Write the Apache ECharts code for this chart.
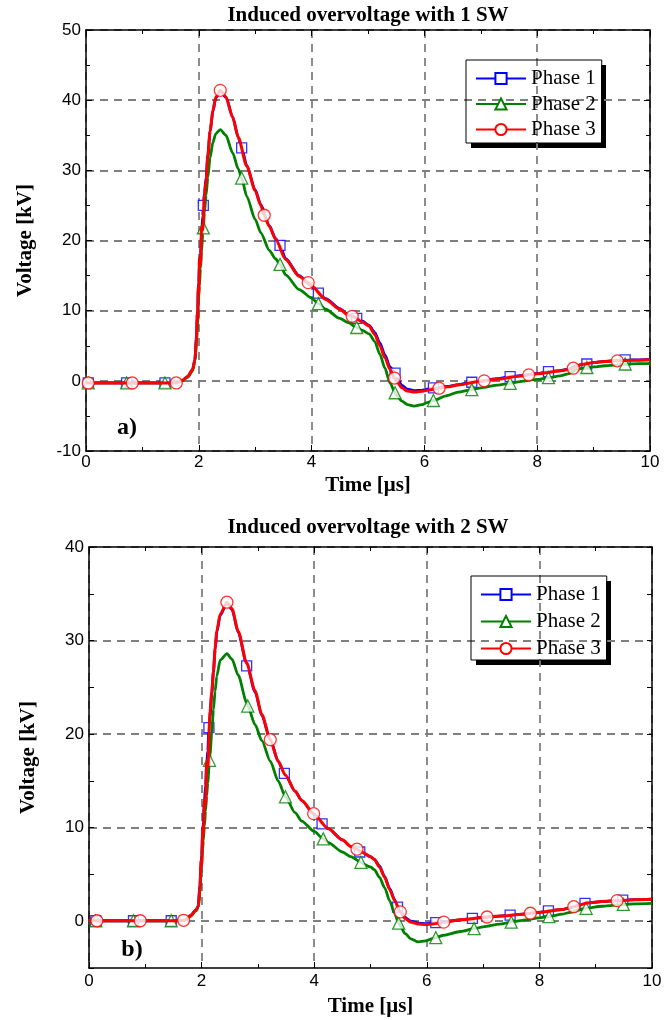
<!DOCTYPE html>
<html>
<head>
<meta charset="utf-8">
<title>Induced overvoltage</title>
<script src="https://cdn.jsdelivr.net/npm/echarts@6/dist/echarts.min.js"></script>
<style>
  html, body { margin: 0; padding: 0; background: #fff; }
  #chart { width: 671px; height: 1020px; }
</style>
</head>
<body>
<div id="chart"></div>
<script>
// chart a) - time grid [us] and voltages [kV]
var timeA = [0, 0.5, 1.0, 1.5, 1.7, 1.8, 1.89, 1.93, 1.96, 1.97,
  1.98, 1.99, 2.0, 2.01, 2.03, 2.05, 2.07, 2.1, 2.13, 2.16,
  2.2, 2.25, 2.3, 2.38, 2.48, 2.6, 2.7, 2.85, 3.0, 3.1,
  3.25, 3.36, 3.54, 3.78, 4.0, 4.25, 4.5, 4.65, 4.9, 5.02,
  5.12, 5.21, 5.3, 5.39, 5.5, 5.6, 5.7, 5.82, 5.95, 6.05,
  6.4, 6.6, 7.0, 7.3, 7.7, 8.0, 8.4, 8.55, 8.7, 8.8,
  9.0, 9.2, 9.5, 9.8, 10];
var phase1A = [-0.3, -0.3, -0.3, -0.3, 0.0, 0.6, 1.6, 3.0, 6.5, 9.0,
  10.0, 13.0, 14.0, 16.5, 18.0, 21.0, 23.5, 26.8, 29.0, 32.2,
  35.5, 38.4, 40.3, 41.3, 40.4, 37.6, 34.7, 30.7, 27.2, 25.1,
  22.1, 20.3, 17.4, 15.0, 13.5, 11.7, 10.3, 9.4, 8.5, 7.9,
  6.9, 5.4, 3.7, 2.0, 0.6, -0.6, -1.2, -1.4, -1.35, -1.2,
  -0.8, -0.55, 0.0, 0.3, 0.75, 1.05, 1.45, 1.65, 2.15, 2.35,
  2.6, 2.78, 2.95, 3.0, 3.05];
var phase2A = [-0.3, -0.3, -0.3, -0.3, 0.0, 0.5, 1.4, 2.8, 5.5, 7.0,
  8.0, 10.5, 12.0, 13.5, 16.0, 18.5, 21.0, 24.0, 26.5, 29.0,
  31.8, 34.0, 35.2, 35.8, 35.0, 32.5, 30.2, 26.3, 23.0, 21.1,
  18.6, 17.4, 15.1, 13.0, 11.8, 10.2, 8.9, 8.3, 7.2, 6.7,
  5.6, 3.8, 1.8, -0.3, -2.0, -2.9, -3.4, -3.6, -3.4, -3.1,
  -2.1, -1.6, -1.0, -0.6, -0.1, 0.2, 0.7, 1.0, 1.6, 1.8,
  2.0, 2.15, 2.35, 2.45, 2.5];
var phase3A = [-0.3, -0.3, -0.3, -0.3, 0.0, 0.6, 1.6, 3.0, 6.0, 9.5,
  8.5, 13.5, 12.5, 17.5, 16.5, 22.0, 21.5, 26.5, 28.5, 32.0,
  35.6, 38.5, 40.4, 41.4, 40.5, 37.6, 34.7, 30.6, 27.1, 25.0,
  22.0, 20.2, 17.3, 14.9, 13.5, 11.6, 10.2, 9.4, 8.4, 7.8,
  6.6, 5.0, 3.3, 1.6, 0.0, -1.0, -1.45, -1.6, -1.5, -1.35,
  -0.85, -0.6, -0.05, 0.25, 0.7, 1.0, 1.4, 1.6, 2.1, 2.35,
  2.6, 2.75, 2.9, 2.95, 3.0];
// marker points [t, kV]
var marks1A = [[0.04, -0.3], [0.72, -0.3], [1.4, -0.3], [2.08, 25.0], [2.76, 33.2], [3.44, 19.3], [4.12, 12.5],
  [4.8, 8.9], [5.48, 1.1], [6.16, -1.0], [6.84, -0.2], [7.52, 0.6], [8.2, 1.3], [8.88, 2.4], [9.56, 3.0]];
var marks2A = [[0.04, -0.3], [0.72, -0.3], [1.4, -0.3], [2.08, 21.8], [2.76, 28.9], [3.44, 16.6], [4.12, 11.0],
  [4.8, 7.6], [5.48, -1.7], [6.16, -2.8], [6.84, -1.25], [7.52, -0.35], [8.2, 0.45], [8.88, 1.9], [9.56, 2.4]];
var marks3A = [[0.04, -0.3], [0.82, -0.3], [1.6, -0.3], [2.38, 41.4], [3.16, 23.6], [3.94, 14.0], [4.72, 9.2],
  [5.47, 0.4], [6.26, -1.05], [7.06, 0.0], [7.85, 0.85], [8.64, 1.8], [9.42, 2.85]];

// chart b)
var timeB = [0, 0.5, 1.0, 1.5, 1.7, 1.8, 1.9, 1.94, 1.97, 1.99,
  2.0, 2.02, 2.03, 2.05, 2.07, 2.09, 2.11, 2.15, 2.18, 2.21,
  2.24, 2.27, 2.33, 2.45, 2.54, 2.65, 2.8, 2.95, 3.07, 3.22,
  3.36, 3.49, 3.66, 3.78, 4.0, 4.25, 4.5, 4.65, 4.84, 5.0,
  5.07, 5.16, 5.25, 5.34, 5.43, 5.53, 5.61, 5.72, 5.85, 5.98,
  6.1, 6.3, 6.6, 7.0, 7.3, 7.7, 8.0, 8.4, 8.55, 8.7,
  8.85, 9.1, 9.4, 9.7, 10];
var phase1B = [0.05, 0.05, 0.05, 0.05, 0.1, 0.6, 1.2, 1.6, 3.8, 6.0,
  7.0, 9.5, 10.5, 12.8, 14.5, 16.8, 18.2, 21.9, 24.3, 26.6,
  29.0, 30.9, 32.7, 34.0, 33.3, 30.9, 27.5, 24.5, 22.0, 19.4,
  17.1, 15.6, 13.9, 12.9, 11.4, 9.9, 8.7, 8.0, 7.4, 6.9,
  6.6, 5.9, 4.8, 3.5, 2.3, 1.1, 0.4, 0.0, -0.2, -0.25,
  -0.2, -0.05, 0.15, 0.4, 0.55, 0.75, 0.95, 1.25, 1.45, 1.7,
  1.95, 2.1, 2.2, 2.3, 2.35];
var phase2B = [0.05, 0.05, 0.05, 0.05, 0.1, 0.5, 1.1, 1.5, 3.0, 5.0,
  6.0, 7.8, 8.6, 10.2, 11.8, 13.4, 14.8, 17.8, 20.2, 22.6,
  24.6, 26.2, 27.9, 28.6, 28.0, 26.3, 23.4, 21.0, 19.3, 17.1,
  15.0, 13.3, 11.6, 10.7, 9.6, 8.4, 7.4, 6.9, 6.3, 5.8,
  5.5, 4.7, 3.6, 2.2, 0.8, -0.5, -1.3, -1.9, -2.2, -2.1,
  -1.85, -1.5, -1.1, -0.6, -0.3, 0.1, 0.35, 0.75, 0.95, 1.2,
  1.4, 1.6, 1.75, 1.85, 1.9];
var phase3B = [0.05, 0.05, 0.05, 0.05, 0.1, 0.6, 1.2, 1.6, 3.5, 6.5,
  5.8, 10.0, 9.2, 13.0, 12.5, 17.0, 16.5, 22.4, 24.5, 26.7,
  29.2, 31.0, 32.8, 34.1, 33.4, 31.0, 27.6, 24.6, 22.1, 19.4,
  17.1, 15.6, 13.9, 12.9, 11.4, 9.9, 8.7, 8.0, 7.4, 6.9,
  6.6, 5.8, 4.7, 3.4, 2.2, 1.0, 0.3, -0.1, -0.3, -0.35,
  -0.3, -0.1, 0.15, 0.4, 0.55, 0.75, 0.95, 1.25, 1.45, 1.7,
  1.95, 2.1, 2.2, 2.3, 2.35];
var marks1B = [[0.12, 0.05], [0.79, 0.05], [1.46, 0.05], [2.13, 20.7], [2.8, 27.3], [3.47, 15.8], [4.14, 10.4],
  [4.81, 7.4], [5.48, 1.5], [6.16, -0.15], [6.81, 0.3], [7.48, 0.65], [8.16, 1.1], [8.81, 1.9], [9.48, 2.25]];
var marks2B = [[0.12, 0.05], [0.79, 0.05], [1.46, 0.05], [2.14, 17.2], [2.82, 23.0], [3.49, 13.3], [4.16, 8.8],
  [4.83, 6.3], [5.5, -0.2], [6.16, -1.75], [6.84, -0.8], [7.5, -0.1], [8.17, 0.5], [8.83, 1.38], [9.49, 1.8]];
var marks3B = [[0.14, 0.05], [0.91, 0.05], [1.68, 0.1], [2.45, 34.1], [3.22, 19.4], [3.99, 11.5], [4.76, 7.7],
  [5.53, 1.0], [6.3, -0.1], [7.07, 0.45], [7.84, 0.85], [8.61, 1.55], [9.38, 2.2]];

var phases = ['Phase 1', 'Phase 2', 'Phase 3'];
var colors = ['#0000ff', '#008000', '#ff0000'];
var markerSymbols = ['rect', 'triangle', 'circle'];
var markerSizes = [10, 12, 12];
var lineWidths = [2.8, 2.8, 3];

var serif = 'Liberation Serif';
var sans = 'Liberation Sans';
var gridDash = { color: '#7f7f7f', width: 1.8, type: [8, 6] };

// curve points + marker points, ordered by time (a marker on an existing time is not repeated)
function merge(times, vals, marks) {
  var pts = times.map(function (t, i) { return [t, vals[i]]; });
  marks.forEach(function (m) {
    if (times.indexOf(m[0]) < 0) pts.push(m);
  });
  pts.sort(function (a, b) { return a[0] - b[0]; });
  return pts;
}

function buildSeries(gi, times, curves, marks) {
  var out = [];
  curves.forEach(function (vals, k) {
    out.push({
      name: phases[k], type: 'line',
      xAxisIndex: gi * 2, yAxisIndex: gi * 2,
      data: merge(times, vals, marks[k]),
      symbol: 'empty' + markerSymbols[k].charAt(0).toUpperCase() + markerSymbols[k].slice(1),
      showSymbol: false,
      smooth: 0.25, smoothMonotone: 'x',
      color: colors[k],
      lineStyle: { color: colors[k], width: lineWidths[k] },
      z: 2 + k * 2
    });
    out.push({
      name: phases[k], type: 'scatter',
      xAxisIndex: gi * 2, yAxisIndex: gi * 2,
      data: marks[k],
      symbol: markerSymbols[k], symbolSize: markerSizes[k],
      itemStyle: { color: '#fff', borderColor: colors[k], borderWidth: 1.3 },
      z: 3 + k * 2
    });
  });
  return out;
}

function xAxes(gi) {
  var base = {
    gridIndex: gi, type: 'value', min: 0, max: 10, interval: 2,
    axisLine: { onZero: false, lineStyle: { color: '#000', width: 1.5 } },
    axisTick: { inside: true, length: 6, lineStyle: { color: '#000' } },
    minorTick: { show: true, splitNumber: 2, length: 4, lineStyle: { color: '#000' } }
  };
  return [
    Object.assign({}, base, {
      position: 'bottom',
      name: 'Time [μs]', nameLocation: 'middle', nameGap: gi === 0 ? 24 : 28,
      nameTextStyle: { fontFamily: serif, fontWeight: 'bold', fontSize: 21, color: '#000' },
      axisLabel: { fontFamily: sans, fontSize: 17, color: '#000', margin: gi === 0 ? 3 : 5 },
      splitLine: { show: true, lineStyle: gridDash }
    }),
    Object.assign({}, base, {
      position: 'top',
      axisLabel: { show: false },
      splitLine: { show: false }
    })
  ];
}

function yAxes(gi, min, max, interval, splitColors, minor) {
  var base = {
    gridIndex: gi, type: 'value', min: min, max: max, interval: interval,
    axisLine: { onZero: false, lineStyle: { color: '#000', width: 1.5 } },
    axisTick: { inside: true, length: minor ? 6 : 5, lineStyle: { color: '#000' } },
    minorTick: { show: minor, splitNumber: 2, length: 4, lineStyle: { color: '#000' } }
  };
  return [
    Object.assign({}, base, {
      position: 'left',
      name: 'Voltage [kV]', nameLocation: 'middle', nameGap: 50,
      nameTextStyle: { fontFamily: serif, fontWeight: 'bold', fontSize: 21, color: '#000' },
      axisLabel: {
        fontFamily: sans, fontSize: 17, color: '#000', margin: 5,
        formatter: function (v) { return (minor || (v >= 0 && v % 10 === 0)) ? String(v) : ''; }
      },
      splitLine: { show: true, lineStyle: Object.assign({}, gridDash, { color: splitColors }) }
    }),
    Object.assign({}, base, {
      position: 'right',
      axisLabel: { show: false },
      splitLine: { show: false }
    })
  ];
}

function legendAt(left, top, gap, padBottom) {
  return {
    left: left, top: top, orient: 'vertical',
    itemWidth: 50, itemHeight: 14, itemGap: gap,
    padding: [8, 6, padBottom, 9],
    backgroundColor: 'transparent',
    borderColor: '#000', borderWidth: 1, borderRadius: 0,
    textStyle: { fontFamily: serif, fontSize: 21, color: '#000' },
    data: phases
  };
}

function label(x, y, text, size) {
  return {
    type: 'text', x: x, y: y, z: 100,
    style: {
      text: text, fill: '#000',
      font: 'bold ' + size + 'px "' + serif + '"',
      align: 'center', verticalAlign: 'middle',
      textAlign: 'center', textVerticalAlign: 'middle'
    }
  };
}

function shadow(x, y, w, h) {
  return { type: 'rect', shape: { x: x, y: y, width: w, height: h }, style: { fill: '#000' } };
}

var chart = echarts.init(document.getElementById('chart'));
chart.setOption({
  animation: false,
  backgroundColor: '#fff',
  grid: [
    { left: 86, top: 30, width: 564, height: 421, outerBoundsMode: 'none' },
    { left: 89, top: 547, width: 563, height: 421, outerBoundsMode: 'none' }
  ],
  xAxis: xAxes(0).concat(xAxes(1)),
  yAxis: yAxes(0, -10, 50, 10, '#7f7f7f', true)
    .concat(yAxes(1, -5, 40, 5, ['transparent', '#7f7f7f'], false)),
  legend: [legendAt(466, 60, 4.5, 3), legendAt(471, 576, 6, 1)],
  graphic: [
    label(368, 16, 'Induced overvoltage with 1 SW', 21),
    label(368, 528, 'Induced overvoltage with 2 SW', 21),
    label(127, 428, 'a)', 24),
    label(132, 950, 'b)', 24),
    shadow(601, 65, 5, 83),
    shadow(471, 143, 135, 5),
    shadow(606, 581, 5, 84),
    shadow(476, 660, 135, 5)
  ],
  series: buildSeries(0, timeA, [phase1A, phase2A, phase3A], [marks1A, marks2A, marks3A])
    .concat(buildSeries(1, timeB, [phase1B, phase2B, phase3B], [marks1B, marks2B, marks3B]))
});
</script>
</body>
</html>
